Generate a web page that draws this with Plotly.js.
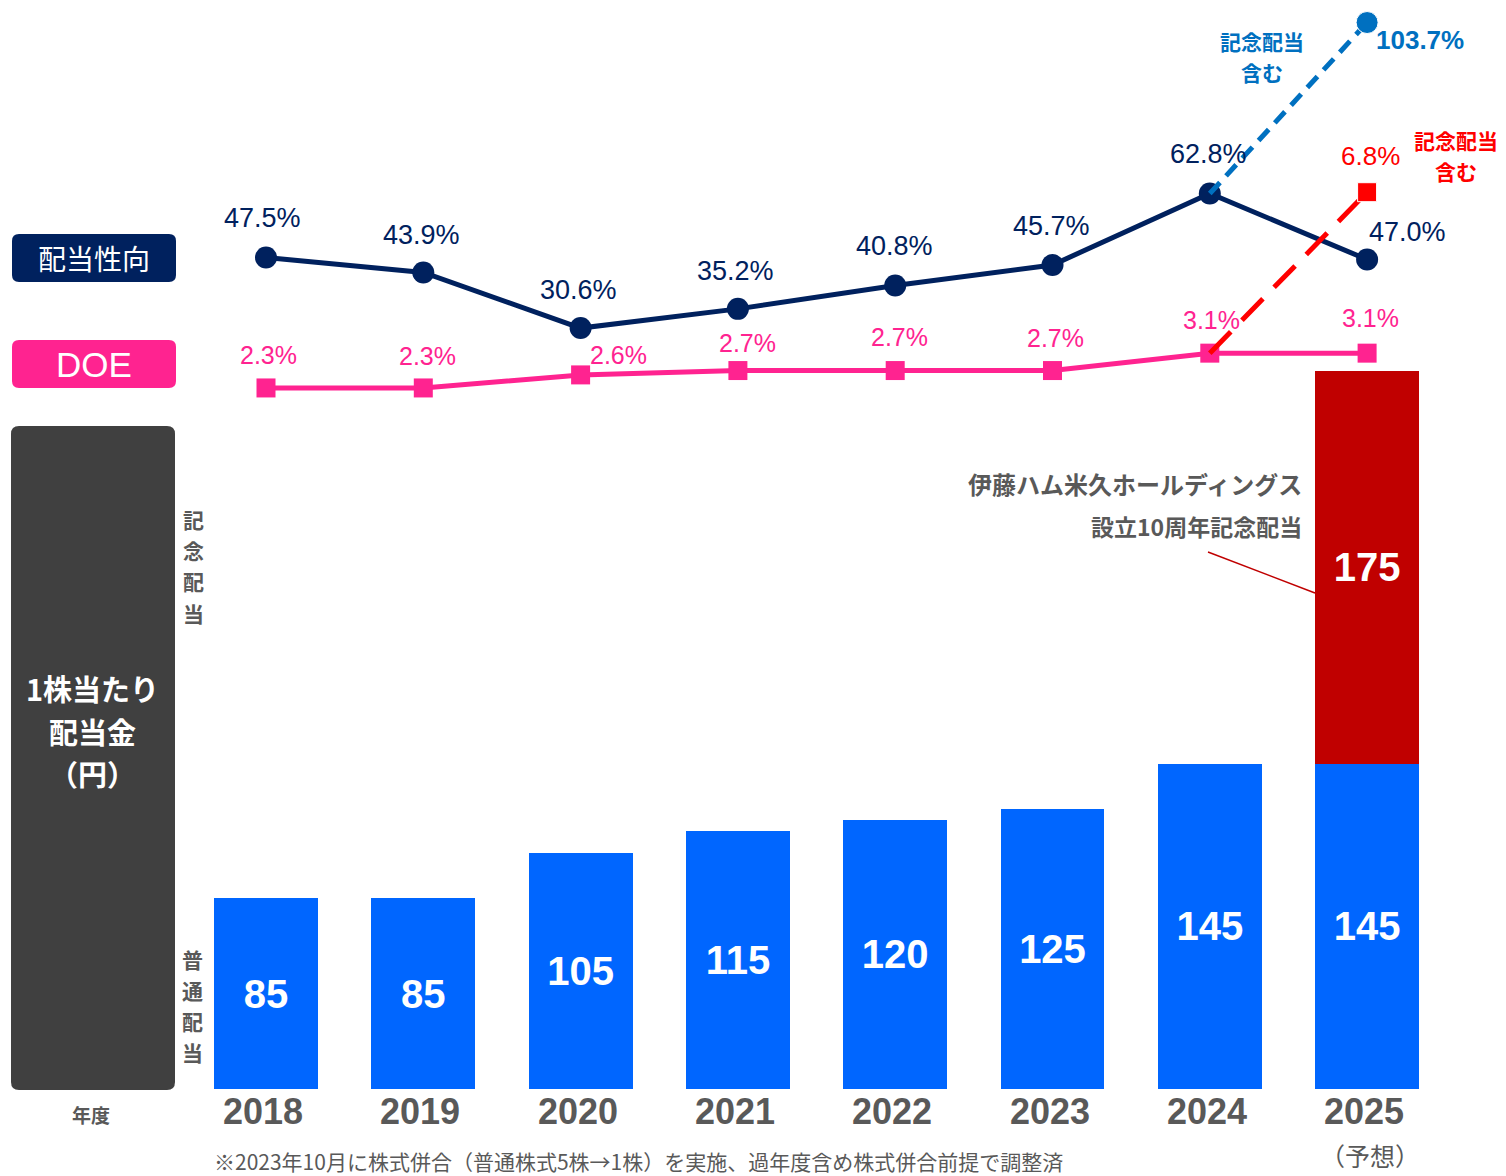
<!DOCTYPE html>
<html>
<head>
<meta charset="utf-8">
<script src="https://cdn.plot.ly/plotly-3.0.1.min.js"></script>
<style>
html,body{margin:0;padding:0;background:#fff;}
#chart{width:1506px;height:1176px;}
</style>
</head>
<body>
<div id="chart"></div>
<script>
// ---------- data ----------
const years = ['2018','2019','2020','2021','2022','2023','2024','2025'];
const regularDividend = [85, 85, 105, 115, 120, 125, 145, 145];
const commemorativeDividend = [null, null, null, null, null, null, null, 175];
const payoutRatio = [47.5, 43.9, 30.6, 35.2, 40.8, 45.7, 62.8, 47.0];
const doe = [2.3, 2.3, 2.6, 2.7, 2.7, 2.7, 3.1, 3.1];
const payoutWithCommemYears = ['2024', '2025'];
const payoutWithCommem = [62.8, 103.7];
const doeWithCommemYears = ['2024', '2025'];
const doeWithCommem = [3.1, 6.8];

// ---------- layout helpers ----------
const W = 1506, H = 1176;
const PX = p => p / W;
const PY = p => 1 - p / H;
function rr(x0, y0, x1, y1, r) {
  return `M${PX(x0 + r)},${PY(y0)} L${PX(x1 - r)},${PY(y0)} Q${PX(x1)},${PY(y0)} ${PX(x1)},${PY(y0 + r)} ` +
    `L${PX(x1)},${PY(y1 - r)} Q${PX(x1)},${PY(y1)} ${PX(x1 - r)},${PY(y1)} ` +
    `L${PX(x0 + r)},${PY(y1)} Q${PX(x0)},${PY(y1)} ${PX(x0)},${PY(y1 - r)} ` +
    `L${PX(x0)},${PY(y0 + r)} Q${PX(x0)},${PY(y0)} ${PX(x0 + r)},${PY(y0)} Z`;
}
const idx = y => years.indexOf(y);

const NAVY = '#00215E';
const PINK = '#FF2390';
const BLUE_BAR = '#0066FF';
const RED_BAR = '#C00000';
const LBLUE = '#0070C0';
const GRAY = '#595959';
const JP = 'Noto Sans CJK JP, Noto Sans, sans-serif';
const LAT = 'Liberation Sans, Arial, sans-serif';

const traces = [
  {
    type: 'bar', x: years, y: regularDividend, marker: {color: BLUE_BAR},
    width: 0.66, text: regularDividend.map(v => '<b>' + v + '</b>'),
    textposition: 'inside', insidetextanchor: 'middle', constraintext: 'none',
    textfont: {family: LAT, size: 40, color: '#ffffff'}, textangle: 0,
    xaxis: 'x', yaxis: 'y', hoverinfo: 'none'
  },
  {
    type: 'bar', x: years, y: commemorativeDividend, marker: {color: RED_BAR},
    width: 0.66, text: commemorativeDividend.map(v => v == null ? '' : '<b>' + v + '</b>'),
    textposition: 'inside', insidetextanchor: 'middle', constraintext: 'none',
    textfont: {family: LAT, size: 40, color: '#ffffff'}, textangle: 0,
    xaxis: 'x', yaxis: 'y', hoverinfo: 'none'
  },
  {
    type: 'scatter', mode: 'lines+markers', x: years, y: payoutRatio,
    line: {color: NAVY, width: 5}, marker: {color: NAVY, size: 22, symbol: 'circle', opacity: 1},
    xaxis: 'x', yaxis: 'y2', cliponaxis: false, hoverinfo: 'none'
  },
  {
    type: 'scatter', mode: 'lines+markers', x: payoutWithCommemYears, y: payoutWithCommem,
    line: {color: LBLUE, width: 5, dash: '15px,9px'},
    marker: {color: LBLUE, size: [0, 22], symbol: 'circle', opacity: 1},
    xaxis: 'x', yaxis: 'y2', cliponaxis: false, hoverinfo: 'none'
  },
  {
    type: 'scatter', mode: 'lines+markers', x: years, y: doe,
    line: {color: PINK, width: 5}, marker: {color: PINK, size: 19, symbol: 'square', opacity: 1},
    xaxis: 'x', yaxis: 'y3', cliponaxis: false, hoverinfo: 'none'
  },
  {
    type: 'scatter', mode: 'lines+markers', x: doeWithCommemYears, y: doeWithCommem,
    line: {color: '#FF0000', width: 5, dash: '30px,16px'},
    marker: {color: '#FF0000', size: [0, 19], symbol: 'square', opacity: 1},
    xaxis: 'x', yaxis: 'y3', cliponaxis: false, hoverinfo: 'none'
  }
];

// ---------- annotations ----------
const annotations = [];
function ann(o) {
  annotations.push(Object.assign({showarrow: false, xanchor: 'center', yanchor: 'middle'}, o));
}
// stacked lines as separate annotations (px positions)
function lines(arr, x, yTop, step, font) {
  arr.forEach((t, k) => ann({x: PX(x), y: PY(yTop + k * step), xref: 'paper', yref: 'paper', text: t, font: font}));
}
// payout ratio labels
const payoutShift = [[-4, 39], [-2, 38], [-2, 38], [-2, 38], [-1, 39], [-1, 39], [-1, 39], [40, 28]];
payoutRatio.forEach((v, i) => {
  ann({x: i, y: v, xref: 'x', yref: 'y2', text: v.toFixed(1) + '%',
    xshift: payoutShift[i][0], yshift: payoutShift[i][1],
    font: {family: LAT, size: 27, color: NAVY}});
});
// DOE labels
const doeShift = [[2, 33], [4, 32], [38, 20], [10, 28], [4, 34], [3, 33], [2, 33], [3, 35]];
doe.forEach((v, i) => {
  ann({x: i, y: v, xref: 'x', yref: 'y3', text: v.toFixed(1) + '%',
    xshift: doeShift[i][0], yshift: doeShift[i][1],
    font: {family: LAT, size: 25, color: PINK}});
});
// commemorative labels
ann({x: idx(payoutWithCommemYears[1]), y: payoutWithCommem[1], xref: 'x', yref: 'y2',
  text: '<b>' + payoutWithCommem[1].toFixed(1) + '%</b>',
  xshift: 53, yshift: -17, font: {family: LAT, size: 26, color: LBLUE}});
ann({x: idx(doeWithCommemYears[1]), y: doeWithCommem[1], xref: 'x', yref: 'y3',
  text: doeWithCommem[1].toFixed(1) + '%',
  xshift: 3, yshift: 36, font: {family: LAT, size: 26, color: '#FF0000'}});
lines(['<b>記念配当</b>', '<b>含む</b>'], 1262, 41, 31, {family: JP, size: 21, color: LBLUE});
lines(['<b>記念配当</b>', '<b>含む</b>'], 1456, 139.5, 31, {family: JP, size: 21, color: '#FF0000'});
// commemorative note
ann({x: PX(1304), y: PY(483), xref: 'paper', yref: 'paper', xanchor: 'right',
  text: '<b>伊藤ハム米久ホールディングス</b>', font: {family: JP, size: 24, color: GRAY}});
ann({x: PX(1304), y: PY(526), xref: 'paper', yref: 'paper', xanchor: 'right',
  text: '<b>設立10周年記念配当</b>', font: {family: JP, size: 23, color: GRAY}});
// year labels
years.forEach((y, i) => {
  ann({x: i, y: PY(1111), xref: 'x', yref: 'paper', text: '<b>' + y + '</b>',
    xshift: -3, font: {family: LAT, size: 36, color: GRAY}});
});
ann({x: years.length - 1, y: PY(1155), xref: 'x', yref: 'paper', text: '（予想）',
  xshift: 3, font: {family: JP, size: 25, color: GRAY}});
// left panel labels
ann({x: PX(94), y: PY(258), xref: 'paper', yref: 'paper', text: '配当性向',
  font: {family: JP, size: 28, color: '#ffffff'}});
ann({x: PX(94), y: PY(364), xref: 'paper', yref: 'paper', text: 'DOE',
  font: {family: LAT, size: 35, color: '#ffffff'}});
lines(['<b>1株当たり</b>', '<b>配当金</b>', '<b>（円）</b>'], 92, 688, 42.5, {family: JP, size: 29, color: '#ffffff'});
// vertical labels, one glyph per line
lines(['記', '念', '配', '当'].map(c => '<b>' + c + '</b>'), 193, 519.5, 31, {family: JP, size: 21, color: GRAY});
lines(['普', '通', '配', '当'].map(c => '<b>' + c + '</b>'), 192, 959, 31, {family: JP, size: 21, color: GRAY});
ann({x: PX(91), y: PY(1114), xref: 'paper', yref: 'paper', text: '<b>年度</b>',
  font: {family: JP, size: 19, color: GRAY}});
ann({x: PX(212), y: PY(1161), xref: 'paper', yref: 'paper', xanchor: 'left',
  text: '※2023年10月に株式併合（普通株式5株→1株）を実施、過年度含め株式併合前提で調整済',
  font: {family: JP, size: 21, color: GRAY}});

const shapes = [
  {type: 'path', xref: 'paper', yref: 'paper', path: rr(12, 234, 176, 282, 7), fillcolor: NAVY, line: {width: 0}, layer: 'below'},
  {type: 'path', xref: 'paper', yref: 'paper', path: rr(12, 340, 176, 388, 7), fillcolor: PINK, line: {width: 0}, layer: 'below'},
  {type: 'path', xref: 'paper', yref: 'paper', path: rr(11, 426, 175, 1090, 8), fillcolor: '#404040', line: {width: 0}, layer: 'below'},
  {type: 'line', xref: 'paper', yref: 'paper', x0: PX(1208), y0: PY(552), x1: PX(1315), y1: PY(593), line: {color: RED_BAR, width: 1.5}}
];

const hidden = {showgrid: false, zeroline: false, showline: false, showticklabels: false, ticks: ''};
const layout = {
  width: W, height: H, margin: {l: 0, r: 0, t: 0, b: 0},
  paper_bgcolor: '#ffffff', plot_bgcolor: 'rgba(0,0,0,0)',
  showlegend: false, barmode: 'stack',
  font: {family: LAT},
  xaxis: Object.assign({type: 'category', domain: [0, 1], range: [-1.691, 7.883], anchor: 'y', fixedrange: true}, hidden),
  yaxis: Object.assign({domain: [PY(1089), PY(371)], range: [0, 320], anchor: 'x'}, hidden),
  yaxis2: Object.assign({domain: [PY(456), 1], range: [0, 109.09], anchor: 'x'}, hidden),
  yaxis3: Object.assign({domain: [PY(488), 1], range: [0, 11.218], anchor: 'x'}, hidden),
  annotations: annotations,
  shapes: shapes
};

Plotly.newPlot('chart', traces, layout, {staticPlot: true, displayModeBar: false});
</script>
</body>
</html>
